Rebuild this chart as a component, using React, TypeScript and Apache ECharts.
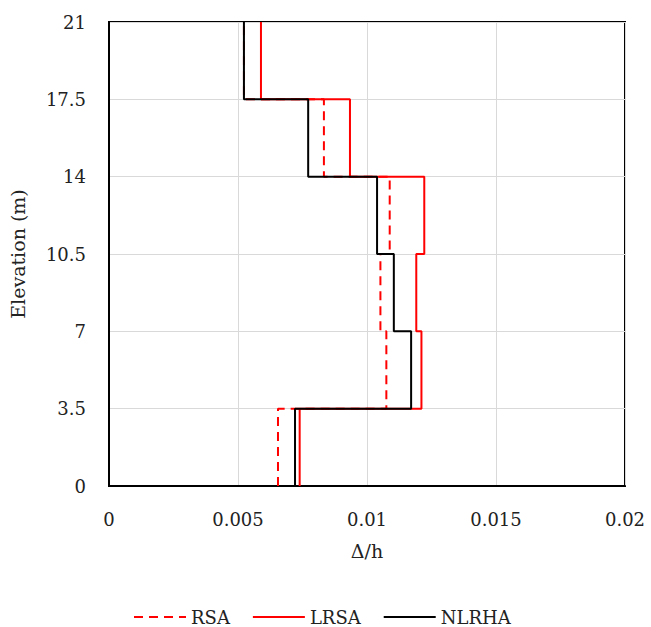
import React, { useEffect, useRef } from "react";
import * as echarts from "echarts";

const storeyLevels = [0, 3.5, 7, 10.5, 14, 17.5, 21];
const rsaDrift = [0.00655, 0.01075, 0.01052, 0.01088, 0.00833, 0.00523];
const lrsaDrift = [0.00739, 0.01211, 0.01191, 0.01222, 0.00934, 0.00589];
const nlrhaDrift = [0.00721, 0.01171, 0.01104, 0.01039, 0.00772, 0.00523];
const seriesNames = ["RSA", "LRSA", "NLRHA"];

function stepPoints(values: number[]): [number, number][] {
  const pts: [number, number][] = [];
  values.forEach((v, i) => {
    pts.push([v, storeyLevels[i]]);
    pts.push([v, storeyLevels[i + 1]]);
  });
  return pts;
}

const FONT = "DejaVu Serif";

export default function App() {
  const ref = useRef<HTMLDivElement>(null);
  useEffect(() => {
    document.body.style.margin = "0";
    const chart = echarts.init(ref.current!, null, { renderer: "svg" });
    const mk = (name: string, vals: number[], color: string, type: any) => ({
      name,
      type: "line",
      data: stepPoints(vals),
      showSymbol: false,
      symbol: "none",
      lineStyle: { color, width: 2, type },
      itemStyle: { color },
    });
    chart.setOption({
      animation: false,
      textStyle: { fontFamily: FONT },
      grid: {
        left: 108,
        right: 26,
        top: 22,
        bottom: 141,
        show: true,
        borderColor: "#000",
        borderWidth: 2,
      },
      xAxis: {
        type: "value",
        min: 0,
        max: 0.02,
        interval: 0.005,
        name: "Δ/h",
        nameLocation: "middle",
        nameGap: 55,
        nameTextStyle: { fontFamily: FONT, fontSize: 19, color: "#222" },
        axisLine: { show: true, lineStyle: { color: "#000", width: 2 } },
        axisTick: { show: false },
        axisLabel: { fontFamily: FONT, fontSize: 18, color: "#222", margin: 24 },
        splitLine: { show: true, lineStyle: { color: "#d9d9d9", width: 1 } },
      },
      yAxis: {
        type: "value",
        min: 0,
        max: 21,
        interval: 3.5,
        name: "Elevation (m)",
        nameLocation: "middle",
        nameGap: 82,
        nameTextStyle: { fontFamily: FONT, fontSize: 19, color: "#222" },
        axisLine: { show: true, lineStyle: { color: "#000", width: 2 } },
        axisTick: { show: false },
        axisLabel: { fontFamily: FONT, fontSize: 18, color: "#222", margin: 23 },
        splitLine: { show: true, lineStyle: { color: "#d9d9d9", width: 1 } },
      },
      legend: {
        data: seriesNames,
        top: 603,
        left: 128,
        itemWidth: 52,
        itemHeight: 12,
        itemGap: 22,
        itemStyle: { opacity: 0 },
        textStyle: { fontFamily: FONT, fontSize: 18, color: "#222" },
      },
      series: [
        mk(seriesNames[0], rsaDrift, "#ff0000", [9, 6]),
        mk(seriesNames[1], lrsaDrift, "#ff0000", "solid"),
        mk(seriesNames[2], nlrhaDrift, "#000000", "solid"),
      ],
    });
    return () => chart.dispose();
  }, []);
  return <div ref={ref} style={{ width: 651, height: 627 }} />;
}
